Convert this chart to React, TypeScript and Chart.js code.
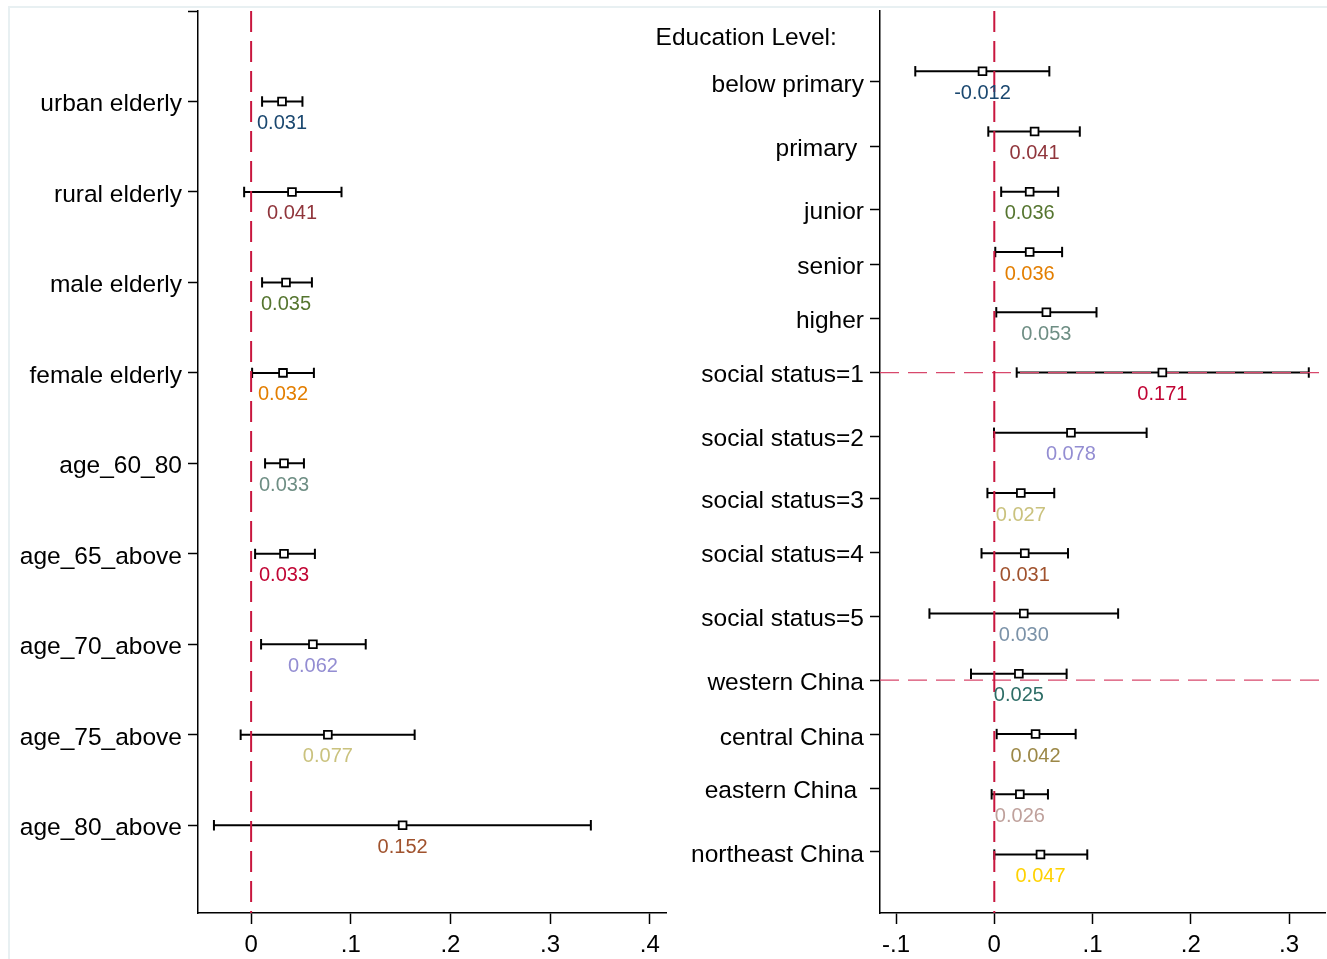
import React, { useEffect, useRef } from "react";
import { Chart, registerables } from "chart.js";

Chart.register(...registerables);

// ---------- data ----------
const leftLabels = [
  "urban elderly",
  "rural elderly",
  "male elderly",
  "female elderly",
  "age_60_80",
  "age_65_above",
  "age_70_above",
  "age_75_above",
  "age_80_above",
];
const leftEstimates = [0.031, 0.041, 0.035, 0.032, 0.033, 0.033, 0.062, 0.077, 0.152];
const leftLower = [0.011, -0.007, 0.011, 0.001, 0.014, 0.004, 0.01, -0.0105, -0.0373];
const leftUpper = [0.0515, 0.0907, 0.061, 0.063, 0.053, 0.064, 0.115, 0.1641, 0.3409];
const leftXTicks = [0, 0.1, 0.2, 0.3, 0.4];

const rightHeading = "Education Level:    ";
const rightLabels = [
  "below primary",
  "primary ",
  "junior",
  "senior",
  "higher",
  "social status=1",
  "social status=2",
  "social status=3",
  "social status=4",
  "social status=5",
  "western China",
  "central China",
  "eastern China ",
  "northeast China",
];
const rightLabelPositions = [1.178, 2.241, 3.295, 4.207, 5.104, 6.003, 7.054, 8.091, 8.988, 10.05, 11.104, 12.012, 12.896, 13.954];
const rightHeadingPosition = 0.407;
const rightEstimates = [-0.012, 0.041, 0.036, 0.036, 0.053, 0.171, 0.078, 0.027, 0.031, 0.03, 0.025, 0.042, 0.026, 0.047];
const rightLower = [-0.0804, -0.0061, 0.007, 0.001, 0.002, 0.0228, -0.0003, -0.007, -0.013, -0.066, -0.0237, 0.0024, -0.0027, 0.0];
const rightUpper = [0.056, 0.087, 0.065, 0.069, 0.104, 0.32, 0.155, 0.061, 0.075, 0.126, 0.0736, 0.0828, 0.0546, 0.0946];
const rightGroupLines = [6.003, 11.104];
const rightXTicks = [-0.1, 0, 0.1, 0.2, 0.3];

const palette = [
  "#1a476f", // navy
  "#90353b", // maroon
  "#55752f", // forest green
  "#e37e00", // dark orange
  "#6e8e84", // teal
  "#c10534", // cranberry
  "#938dd2", // lavender
  "#cac27e", // khaki
  "#a0522d", // sienna
  "#7b92a8", // emidblue
  "#2d6d66", // emerald
  "#9c8847", // brown
  "#bfa19c", // erose
  "#ffd200", // gold
];

const FONT = '"Liberation Sans", Arial, Helvetica, sans-serif';
const RED = "#c8163e";
const RED_LIGHT = "#d8486c";

function fmtTick(v: number): string {
  if (Math.abs(v) < 1e-9) return "0";
  const s = String(Math.round(v * 10) / 10);
  return s.replace("0.", ".");
}

type Panel = {
  labels: string[];
  tickPositions: number[];
  tickVisible: boolean[];
  est: number[];
  lo: number[];
  hi: number[];
  colors: string[];
  xMin: number;
  xMax: number;
  xTicks: number[];
  yMax: number;
  groupLines: number[];
  axisWidth: number;
  padRight: number;
};

function buildConfig(p: Panel): any {
  const datasets: any[] = [];
  p.est.forEach((_, i) => {
    datasets.push({
      data: [
        { x: p.lo[i], y: i + 1 },
        { x: p.hi[i], y: i + 1 },
      ],
      showLine: true,
      borderColor: "#000",
      borderWidth: 2,
      pointStyle: "line",
      pointRotation: 90,
      pointRadius: 5.2,
      pointBorderWidth: 2,
      pointBorderColor: "#000",
      pointBackgroundColor: "#000",
      order: 3,
    });
  });
  datasets.push({
    data: [
      { x: 0, y: 0 },
      { x: 0, y: p.yMax },
    ],
    showLine: true,
    borderColor: RED,
    borderWidth: 2,
    borderDash: [21, 9],
    pointRadius: 0,
    order: 2,
  });
  p.groupLines.forEach((g) => {
    datasets.push({
      data: [
        { x: p.xMin, y: g },
        { x: p.xMax, y: g },
      ],
      showLine: true,
      borderColor: RED_LIGHT,
      borderWidth: 1.2,
      borderDash: [19, 9],
      pointRadius: 0,
      order: 2,
    });
  });
  datasets.push({
    data: p.est.map((v, i) => ({ x: v, y: i + 1 })),
    showLine: false,
    pointStyle: "rect",
    pointRadius: 5.5,
    pointBorderWidth: 1.8,
    pointBorderColor: "#000",
    pointBackgroundColor: "#fff",
    order: 1,
  });

  const valueLabels = {
    id: "valueLabels",
    afterDatasetsDraw(chart: any) {
      const { ctx } = chart;
      const xs = chart.scales.x;
      const ys = chart.scales.y;
      ctx.save();
      ctx.font = `20px ${FONT}`;
      ctx.textAlign = "center";
      ctx.textBaseline = "middle";
      p.est.forEach((v, i) => {
        ctx.fillStyle = p.colors[i];
        ctx.fillText(v.toFixed(3), xs.getPixelForValue(v), ys.getPixelForValue(i + 1) + 22);
      });
      ctx.restore();
    },
  };

  return {
    type: "scatter",
    data: { datasets },
    plugins: [valueLabels],
    options: {
      animation: false,
      responsive: false,
      devicePixelRatio: 1,
      events: [],
      layout: { autoPadding: false, padding: { top: 11, right: p.padRight, left: 0, bottom: 0 } },
      plugins: { legend: { display: false }, tooltip: { enabled: false } },
      scales: {
        x: {
          type: "linear",
          min: p.xMin,
          max: p.xMax,
          afterBuildTicks: (s: any) => {
            s.ticks = p.xTicks.map((v) => ({ value: v }));
          },
          afterFit: (s: any) => {
            s.height = 46;
            s.paddingLeft = 0;
            s.paddingRight = 0;
          },
          ticks: {
            callback: (v: number) => fmtTick(v),
            font: { family: FONT, size: 24 },
            color: "#000",
            padding: 7,
            maxRotation: 0,
            autoSkip: false,
          },
          grid: {
            drawOnChartArea: false,
            drawTicks: true,
            tickLength: 11,
            tickColor: "#000",
            tickWidth: 1.5,
          },
          border: { display: true, color: "#000", width: 1.5 },
        },
        y: {
          type: "linear",
          reverse: true,
          min: 0,
          max: p.yMax,
          afterBuildTicks: (s: any) => {
            s.ticks = p.tickPositions.map((v) => ({ value: v }));
          },
          afterFit: (s: any) => {
            s.width = p.axisWidth;
            s.paddingTop = 0;
            s.paddingBottom = 0;
          },
          ticks: {
            callback: (_v: number, idx: number) => p.labels[idx],
            font: { family: FONT, size: 24.5 },
            color: "#000",
            padding: 6,
            labelOffset: 3,
            autoSkip: false,
          },
          grid: {
            drawOnChartArea: false,
            drawTicks: true,
            tickLength: 10,
            tickColor: (ctx: any) => (p.tickVisible[ctx.index] ? "#000" : "rgba(0,0,0,0)"),
            tickWidth: 1.5,
          },
          border: { display: true, color: "#000", width: 1.5 },
        },
      },
    },
  };
}

const leftPanel: Panel = {
  labels: ["", ...leftLabels],
  tickPositions: [0, ...leftLabels.map((_, i) => i + 1)],
  tickVisible: [true, ...leftLabels.map(() => true)],
  est: leftEstimates,
  lo: leftLower,
  hi: leftUpper,
  colors: palette,
  xMin: -0.0533,
  xMax: 0.4168,
  xTicks: leftXTicks,
  yMax: 9.97,
  groupLines: [],
  axisWidth: 198,
  padRight: 1.5,
};

const rightPanel: Panel = {
  labels: [rightHeading, ...rightLabels],
  tickPositions: [rightHeadingPosition, ...rightLabelPositions],
  tickVisible: [false, ...rightLabels.map(() => true)],
  est: rightEstimates,
  lo: rightLower,
  hi: rightUpper,
  colors: palette,
  xMin: -0.1163,
  xMax: 0.3365,
  xTicks: rightXTicks,
  yMax: 14.97,
  groupLines: rightGroupLines,
  axisWidth: 240,
  padRight: 2,
};

function PanelChart({ panel, left, width }: { panel: Panel; left: number; width: number }) {
  const ref = useRef<HTMLCanvasElement>(null);
  useEffect(() => {
    const chart = new Chart(ref.current as HTMLCanvasElement, buildConfig(panel));
    return () => chart.destroy();
  }, [panel]);
  return (
    <canvas
      ref={ref}
      width={width}
      height={959}
      style={{ position: "absolute", left, top: 0, width, height: 959 }}
    />
  );
}

export default function App() {
  return (
    <div
      style={{
        position: "fixed",
        left: 0,
        top: 0,
        width: 1327,
        height: 959,
        background: "#fff",
        overflow: "hidden",
      }}
    >
      <div
        style={{
          position: "absolute",
          left: 8,
          top: 6,
          width: 1400,
          height: 1000,
          borderLeft: "2.5px solid #e8f0f2",
          borderTop: "2.5px solid #e8f0f2",
        }}
      />
      <PanelChart panel={leftPanel} left={0} width={668} />
      <PanelChart panel={rightPanel} left={640} width={687} />
    </div>
  );
}
